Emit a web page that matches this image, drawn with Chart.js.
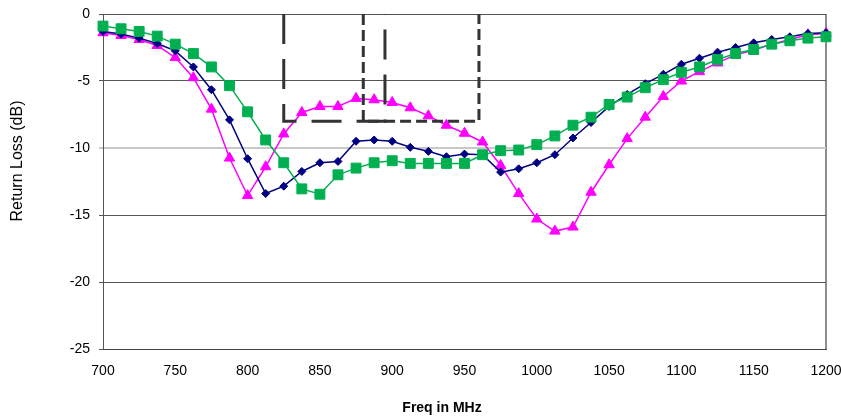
<!DOCTYPE html>
<html>
<head>
    <title>Return Loss</title>
    <script src="https://cdn.jsdelivr.net/npm/chart.js"></script>
    <style>
        body { margin: 0; background: #fff; }
    </style>
</head>
<body>
    <canvas id="rlChart" width="841" height="417"></canvas>
    <script>
        const freqs = [700, 712.5, 725, 737.5, 750, 762.5, 775, 787.5, 800, 812.5,
                       825, 837.5, 850, 862.5, 875, 887.5, 900, 912.5, 925, 937.5,
                       950, 962.5, 975, 987.5, 1000, 1012.5, 1025, 1037.5, 1050, 1062.5,
                       1075, 1087.5, 1100, 1112.5, 1125, 1137.5, 1150, 1162.5, 1175, 1187.5, 1200];

        const greenLoss = [-0.9, -1.1, -1.3, -1.65, -2.25, -2.95, -3.95, -5.35, -7.3, -9.4,
                           -11.1, -13.05, -13.45, -12.0, -11.5, -11.1, -10.95, -11.15, -11.15, -11.15,
                           -11.15, -10.5, -10.2, -10.15, -9.75, -9.1, -8.3, -7.7, -6.75, -6.2,
                           -5.5, -4.9, -4.35, -3.95, -3.4, -2.95, -2.65, -2.25, -2.0, -1.8, -1.7];

        const navyLoss = [-1.3, -1.5, -1.8, -2.2, -2.75, -3.95, -5.65, -7.9, -10.8, -13.4,
                          -12.85, -11.75, -11.1, -11.0, -9.5, -9.4, -9.5, -9.95, -10.25, -10.65,
                          -10.45, -10.5, -11.8, -11.55, -11.1, -10.5, -9.25, -8.1, -6.9, -6.0,
                          -5.2, -4.5, -3.75, -3.3, -2.85, -2.5, -2.15, -1.9, -1.7, -1.45, -1.4];

        const magentaLoss = [-1.4, -1.6, -1.9, -2.35, -3.25, -4.75, -7.1, -10.75, -13.55, -11.4,
                             -8.95, -7.35, -6.9, -6.9, -6.3, -6.4, -6.6, -7.0, -7.6, -8.3,
                             -8.9, -9.55, -11.3, -13.4, -15.3, -16.2, -15.9, -13.3, -11.25, -9.3,
                             -7.7, -6.15, -5.0, -4.3, -3.65, -3.05, -2.7, -2.25, -1.9, -1.55, -1.45];

        // spec bands (MHz) and the -8 dB limit
        const band850 = [825, 895];
        const band900 = [880, 960];
        const bandLimit = -8;

        const xTitle = 'Freq in MHz';
        const yTitle = 'Return Loss (dB)';

        const toPoints = vals => freqs.map((f, i) => ({ x: f, y: vals[i] }));
        const bandBox = b => [{ x: b[0], y: 0 }, { x: b[0], y: bandLimit },
                              { x: b[1], y: bandLimit }, { x: b[1], y: 0 }];

        const axisTitles = {
            id: 'axisTitles',
            afterDraw(chart) {
                const ctx = chart.ctx;
                ctx.save();
                ctx.fillStyle = '#000';
                ctx.textAlign = 'center';
                ctx.textBaseline = 'alphabetic';
                ctx.font = 'bold 14px "Liberation Sans", Arial, sans-serif';
                ctx.fillText(xTitle, 442, 412);
                ctx.translate(22, 161);
                ctx.rotate(-Math.PI / 2);
                ctx.font = '16px "Liberation Sans", Arial, sans-serif';
                ctx.fillText(yTitle, 0, 0);
                ctx.restore();
            }
        };

        const series = (data, color, style, radius) => ({
            data: toPoints(data),
            borderColor: color,
            backgroundColor: color,
            borderWidth: 1.5,
            pointStyle: style,
            pointRadius: radius,
            pointBorderWidth: 1,
            tension: 0,
            clip: false
        });

        const box = (band, dash) => ({
            data: bandBox(band),
            borderColor: '#333',
            borderWidth: 3,
            borderDash: dash,
            pointRadius: 0,
            tension: 0,
            fill: false
        });

        new Chart(document.getElementById('rlChart'), {
            type: 'line',
            data: {
                datasets: [
                    box(band850, [30, 15]),
                    box(band900, [11, 5]),
                    series(greenLoss, '#00b050', 'rect', 7),
                    series(navyLoss, '#000080', 'rectRot', 4),
                    series(magentaLoss, '#ff00ff', 'triangle', 6)
                ]
            },
            options: {
                responsive: false,
                animation: false,
                devicePixelRatio: 1,
                layout: { padding: { left: 0, right: 15, top: 14, bottom: 0 } },
                plugins: { legend: { display: false }, tooltip: { enabled: false } },
                scales: {
                    x: {
                        type: 'linear',
                        min: 700,
                        max: 1200,
                        afterFit: s => { s.height = 68; s.paddingLeft = 0; s.paddingRight = 0; },
                        ticks: {
                            stepSize: 50,
                            color: '#000',
                            padding: 14,
                            callback: v => String(v),
                            font: { family: '"Liberation Sans", Arial, sans-serif', size: 14 }
                        },
                        grid: {
                            drawTicks: false,
                            color: c => c.tick && c.tick.value === 1200 ? '#8c8c8c' : 'rgba(0,0,0,0)',
                            lineWidth: c => c.tick && c.tick.value === 1200 ? 2 : 1
                        },
                        border: { color: '#444', width: 1 }
                    },
                    y: {
                        min: -25,
                        max: 0,
                        afterFit: s => { s.width = 103; s.paddingTop = 0; s.paddingBottom = 0; },
                        ticks: {
                            stepSize: 5,
                            color: '#000',
                            padding: 9,
                            font: { family: '"Liberation Sans", Arial, sans-serif', size: 14 }
                        },
                        grid: {
                            tickLength: 4,
                            color: c => c.tick && c.tick.value === -10 ? '#c8c8c8' : '#555',
                            lineWidth: c => c.tick && c.tick.value === -10 ? 2 : 1
                        },
                        border: { color: '#555', width: 1 }
                    }
                }
            },
            plugins: [axisTitles]
        });
    </script>
</body>
</html>
